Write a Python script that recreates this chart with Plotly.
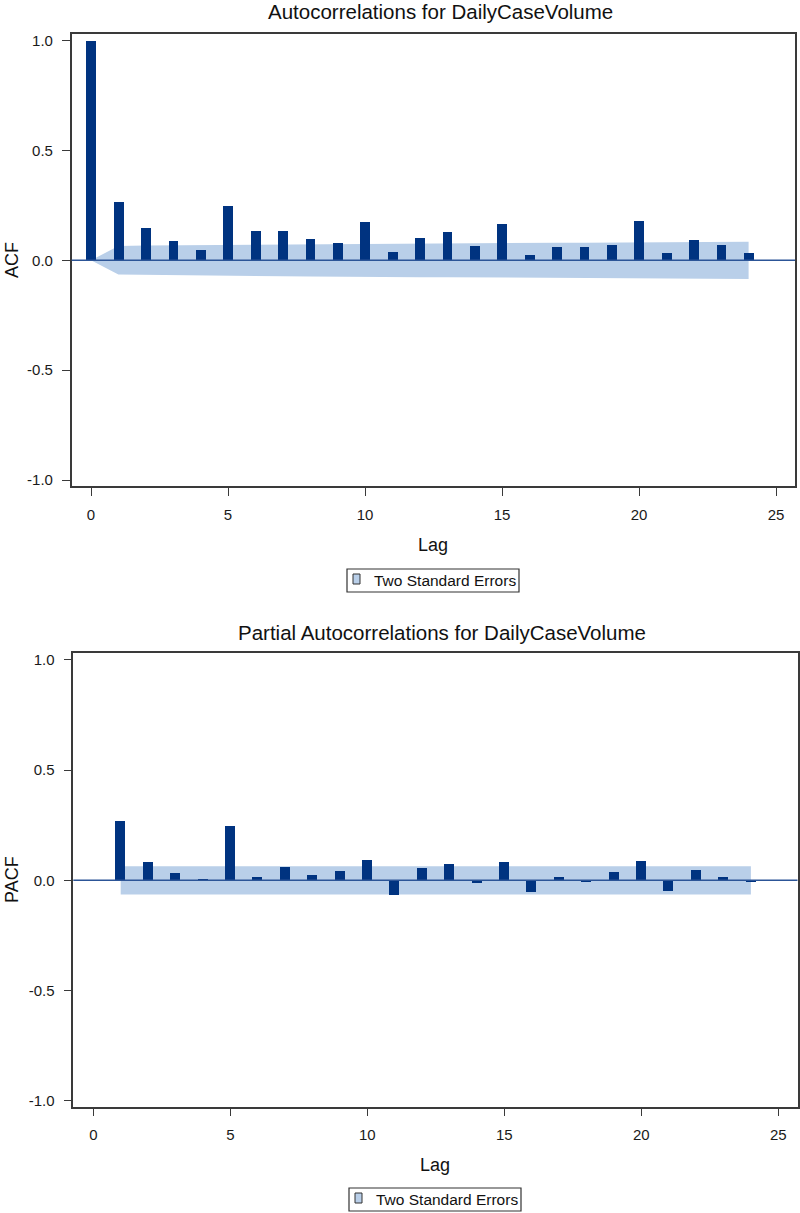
import plotly.graph_objects as go

# ---------------- data ----------------
acf_lags = list(range(0, 25))
acf_values = [1.000, 0.267, 0.146, 0.088, 0.047, 0.248, 0.134, 0.135, 0.097, 0.081,
              0.173, 0.038, 0.103, 0.128, 0.065, 0.167, 0.024, 0.059, 0.059, 0.068,
              0.178, 0.033, 0.094, 0.070, 0.033]
acf_two_se = [0.000, 0.065, 0.067, 0.068, 0.068, 0.069, 0.072, 0.073, 0.074, 0.074,
              0.075, 0.077, 0.077, 0.077, 0.078, 0.078, 0.080, 0.080, 0.080, 0.081,
              0.081, 0.083, 0.083, 0.084, 0.085]

pacf_lags = list(range(1, 25))
pacf_values = [0.268, 0.082, 0.030, 0.006, 0.244, 0.014, 0.059, 0.024, 0.042, 0.091,
               -0.070, 0.055, 0.071, -0.015, 0.080, -0.055, 0.012, -0.009, 0.036, 0.086,
               -0.048, 0.045, 0.012, -0.009]
pacf_two_se = [0.064] * 24

x_ticks = [0, 5, 10, 15, 20, 25]
y_ticks = [-1.0, -0.5, 0.0, 0.5, 1.0]
y_ticklabels = ["-1.0", "-0.5", "0.0", "0.5", "1.0"]
legend_label = "Two Standard Errors"

# ---------------- style ----------------
BAR = "#003380"
BAND = "#b9cfe9"
ZERO = "#2c5597"
FRAME = "#3a3a3a"
TXT = "#111111"
FONT = "Liberation Sans, Arial, sans-serif"
W, H = 800, 1213
Y_RANGE = [-1.027, 1.030]


def px_x(p):
    return p / W


def px_y(p):
    return 1 - p / H


fig = go.Figure()

# ACF: band on base axes, bars on overlay y-axis (drawn above)
fig.add_trace(go.Scatter(
    x=acf_lags + acf_lags[::-1],
    y=acf_two_se + [-v for v in acf_two_se[::-1]],
    fill="toself", fillcolor=BAND, line=dict(width=0), mode="lines",
    hoverinfo="skip", showlegend=False, xaxis="x", yaxis="y"))
fig.add_trace(go.Bar(x=acf_lags, y=acf_values, width=0.36,
                     marker=dict(color=BAR, line=dict(width=0)),
                     showlegend=False, xaxis="x", yaxis="y3"))

# PACF
fig.add_trace(go.Scatter(
    x=pacf_lags + pacf_lags[::-1],
    y=pacf_two_se + [-v for v in pacf_two_se[::-1]],
    fill="toself", fillcolor=BAND, line=dict(width=0), mode="lines",
    hoverinfo="skip", showlegend=False, xaxis="x2", yaxis="y2"))
fig.add_trace(go.Bar(x=pacf_lags, y=pacf_values, width=0.36,
                     marker=dict(color=BAR, line=dict(width=0)),
                     showlegend=False, xaxis="x2", yaxis="y4"))

axis_common = dict(showgrid=False, zeroline=False, showline=True, linecolor=FRAME, linewidth=1.5,
                   mirror=True, ticks="outside", ticklen=8, tickwidth=1.2, tickcolor=FRAME,
                   automargin=False,
                   tickfont=dict(family=FONT, size=15, color="#1a1a1a"))

top_xr = [(71.7 - 91) / 27.4, (795 - 91) / 27.4]
bot_xr = [(73.3 - 93.3) / 27.4, (797.5 - 93.3) / 27.4]

shapes = [
    dict(type="line", xref="x domain", yref="y", x0=0, x1=1, y0=0, y1=0,
         line=dict(color=ZERO, width=1.5), layer="above"),
    dict(type="line", xref="x2 domain", yref="y2", x0=0, x1=1, y0=0, y1=0,
         line=dict(color=ZERO, width=1.5), layer="above"),
]
annotations = [
    dict(text="Autocorrelations for DailyCaseVolume", x=px_x(440), y=px_y(12),
         font=dict(family=FONT, size=20.5, color=TXT)),
    dict(text="Partial Autocorrelations for DailyCaseVolume", x=px_x(442), y=px_y(632),
         font=dict(family=FONT, size=20.5, color=TXT)),
    dict(text="ACF", x=px_x(12), y=px_y(260), textangle=-90,
         font=dict(family=FONT, size=18, color=TXT)),
    dict(text="PACF", x=px_x(12), y=px_y(880), textangle=-90,
         font=dict(family=FONT, size=18, color=TXT)),
    dict(text="Lag", x=px_x(433), y=px_y(545), font=dict(family=FONT, size=18, color=TXT)),
    dict(text="Lag", x=px_x(435), y=px_y(1165), font=dict(family=FONT, size=18, color=TXT)),
]

# legend boxes (one per panel), drawn as box + swatch + label
for (bx0, by0) in [(347, 569), (349, 1188)]:
    shapes.append(dict(type="rect", xref="paper", yref="paper",
                       x0=px_x(bx0), x1=px_x(bx0 + 172), y0=px_y(by0 + 23), y1=px_y(by0),
                       line=dict(color="#333333", width=1.2), fillcolor="white", layer="above"))
    shapes.append(dict(type="rect", xref="paper", yref="paper",
                       x0=px_x(bx0 + 6), x1=px_x(bx0 + 13), y0=px_y(by0 + 15), y1=px_y(by0 + 5),
                       line=dict(color="#333333", width=1), fillcolor=BAND, layer="above"))
    annotations.append(dict(text=legend_label, x=px_x(bx0 + 25), y=px_y(by0 + 11.5),
                            xanchor="left", font=dict(family=FONT, size=15.5, color=TXT)))

for a in annotations:
    a.setdefault("xref", "paper")
    a.setdefault("yref", "paper")
    a.setdefault("xanchor", "center")
    a.setdefault("yanchor", "middle")
    a["showarrow"] = False

fig.update_layout(
    width=W, height=H, margin=dict(l=0, r=0, t=0, b=0, autoexpand=False),
    paper_bgcolor="white", plot_bgcolor="white",
    bargap=0, barmode="overlay", showlegend=False,
    font=dict(family=FONT, color="#1a1a1a"),
    xaxis=dict(domain=[px_x(71.7), px_x(795)], range=top_xr, tickvals=x_ticks,
               anchor="y", ticklabelstandoff=6, **axis_common),
    yaxis=dict(domain=[px_y(486), px_y(34)], range=Y_RANGE, tickvals=y_ticks,
               ticktext=y_ticklabels, anchor="x", ticklabelstandoff=6, **axis_common),
    yaxis3=dict(overlaying="y", range=Y_RANGE, visible=False, anchor="x"),
    xaxis2=dict(domain=[px_x(73.3), px_x(797.5)], range=bot_xr, tickvals=x_ticks,
                anchor="y2", ticklabelstandoff=6, **axis_common),
    yaxis2=dict(domain=[px_y(1106.7), px_y(653.3)], range=Y_RANGE, tickvals=y_ticks,
                ticktext=y_ticklabels, anchor="x2", ticklabelstandoff=6, **axis_common),
    yaxis4=dict(overlaying="y2", range=Y_RANGE, visible=False, anchor="x2"),
    shapes=shapes,
    annotations=annotations,
)

# remove the browser's default page margin so the 800x1213 figure fills the window exactly
fig.write_html("out.html", config={"displayModeBar": False},
               post_script="document.body.style.margin='0px';")
